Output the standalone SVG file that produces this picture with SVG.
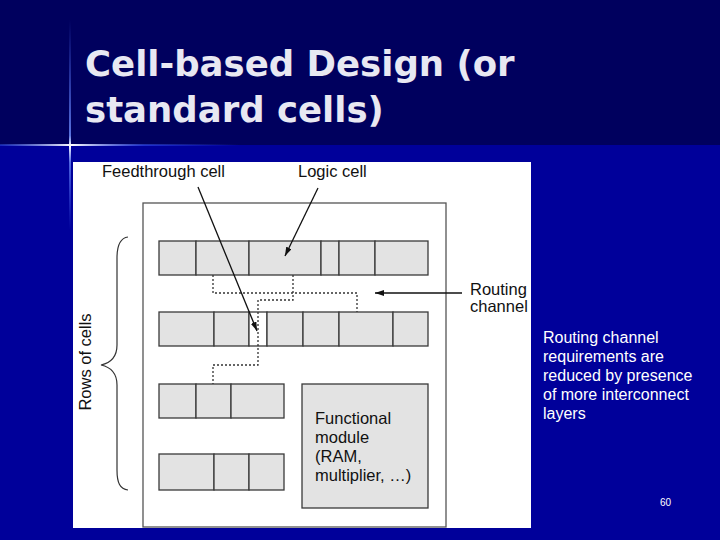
<svg xmlns="http://www.w3.org/2000/svg" width="720" height="540" viewBox="0 0 720 540">
<defs>
<linearGradient id="vglow" x1="0" y1="0" x2="0" y2="1">
<stop offset="0" stop-color="#5070ff" stop-opacity="0"/>
<stop offset="0.55" stop-color="#7090ff" stop-opacity="0.8"/>
<stop offset="0.6" stop-color="#ffffff" stop-opacity="1"/>
<stop offset="0.68" stop-color="#7090ff" stop-opacity="0.7"/>
<stop offset="1" stop-color="#5070ff" stop-opacity="0"/>
</linearGradient>
<linearGradient id="hglow" x1="0" y1="0" x2="1" y2="0">
<stop offset="0" stop-color="#3050e0" stop-opacity="0.5"/>
<stop offset="0.3" stop-color="#ffffff" stop-opacity="1"/>
<stop offset="0.6" stop-color="#4060ff" stop-opacity="0.5"/>
<stop offset="1" stop-color="#4060ff" stop-opacity="0"/>
</linearGradient>
<marker id="ah" markerWidth="9" markerHeight="6" refX="9" refY="3" orient="auto" markerUnits="userSpaceOnUse">
<path d="M0,0 L9,3 L0,6 z" fill="#111"/>
</marker>
<style>
.title{font-family:"DejaVu Sans",sans-serif;font-weight:bold;font-size:35.5px;fill:#e8e8f2}
.note{font-family:"Liberation Sans",Arial,sans-serif;font-size:16px;fill:#ffffff}
.lbl{font-family:"Liberation Sans",Arial,sans-serif;font-size:16.5px;fill:#111}
.cell{fill:#e3e3e3;stroke:#3a3a3a;stroke-width:1.3}
.ft{fill:#ffffff;stroke:#3a3a3a;stroke-width:1.3}
.wire{fill:none;stroke:#333;stroke-width:1.3;stroke-dasharray:2 2}
.arr{fill:none;stroke:#111;stroke-width:1.3;marker-end:url(#ah)}
</style>
</defs>
<rect x="0" y="0" width="720" height="145" fill="#00005e"/>
<rect x="0" y="145" width="720" height="395" fill="#00009a"/>
<rect x="69" y="20" width="2" height="210" fill="url(#vglow)"/>
<rect x="0" y="144" width="240" height="2" fill="url(#hglow)"/>
<g id="title">
<text class="title" x="85" y="76">Cell-based Design (or</text>
<text class="title" x="85" y="122">standard cells)</text>
</g>
<rect x="73" y="162" width="458" height="366" fill="#ffffff"/>
<g id="chip"><rect x="143" y="203" width="303" height="324" fill="#ffffff" stroke="#555" stroke-width="1.3"/></g>
<g id="row1">
<rect class="cell" x="159" y="241" width="37" height="34"/>
<rect class="cell" x="196" y="241" width="53" height="34"/>
<rect class="cell" x="249" y="241" width="72" height="34"/>
<rect class="cell" x="321" y="241" width="18" height="34"/>
<rect class="cell" x="339" y="241" width="36" height="34"/>
<rect class="cell" x="375" y="241" width="53" height="34"/>
</g>
<g id="row2">
<rect class="cell" x="159" y="312" width="55" height="34"/>
<rect class="cell" x="214" y="312" width="35" height="34"/>
<rect class="ft" x="249" y="312" width="18" height="34"/>
<rect class="cell" x="267" y="312" width="36" height="34"/>
<rect class="cell" x="303" y="312" width="36" height="34"/>
<rect class="cell" x="339" y="312" width="54" height="34"/>
<rect class="cell" x="393" y="312" width="35" height="34"/>
</g>
<g id="row3">
<rect class="cell" x="159" y="384" width="37" height="34"/>
<rect class="cell" x="196" y="384" width="35" height="34"/>
<rect class="cell" x="231" y="384" width="53" height="34"/>
</g>
<g id="row4">
<rect class="cell" x="159" y="454" width="55" height="36"/>
<rect class="cell" x="214" y="454" width="35" height="36"/>
<rect class="cell" x="249" y="454" width="35" height="36"/>
</g>
<g id="functional-module">
<rect class="cell" x="302" y="384" width="126" height="124"/>
<text class="lbl" x="315" y="424">Functional</text>
<text class="lbl" x="315" y="443">module</text>
<text class="lbl" x="315" y="462">(RAM,</text>
<text class="lbl" x="315" y="481">multiplier, …)</text>
</g>
<g id="connectors">
<path class="wire" d="M213,275 V293 H357 V312"/>
<path class="wire" d="M293,275 V300 H258 V365 H213 V384"/>
<line class="arr" x1="198" y1="187" x2="257" y2="331"/>
<line class="arr" x1="318" y1="188" x2="285" y2="256"/>
<line class="arr" x1="462" y1="293" x2="375" y2="293"/>
<path d="M128,237 C120,238 117,245 117,258 L117,345 C117,357 110,363 101,365 C110,367 117,373 117,385 L117,470 C117,483 120,489 128,490" fill="none" stroke="#333" stroke-width="1.2"/>
</g>
<g id="label-feedthrough"><text class="lbl" x="102" y="177">Feedthrough cell</text></g>
<g id="label-logic"><text class="lbl" x="298" y="177">Logic cell</text></g>
<g id="label-routing">
<text class="lbl" x="470" y="295">Routing</text>
<text class="lbl" x="470" y="312">channel</text>
</g>
<g id="label-rows"><text class="lbl" transform="translate(91,362) rotate(-90)" text-anchor="middle">Rows of cells</text></g>
<g id="note">
<text class="note" x="543" y="343">Routing channel</text>
<text class="note" x="543" y="362">requirements are</text>
<text class="note" x="543" y="381">reduced by presence</text>
<text class="note" x="543" y="400">of more interconnect</text>
<text class="note" x="543" y="419">layers</text>
</g>
<text x="660" y="506" font-family="Liberation Sans, Arial, sans-serif" font-size="10" fill="#ffffff">60</text>
</svg>
